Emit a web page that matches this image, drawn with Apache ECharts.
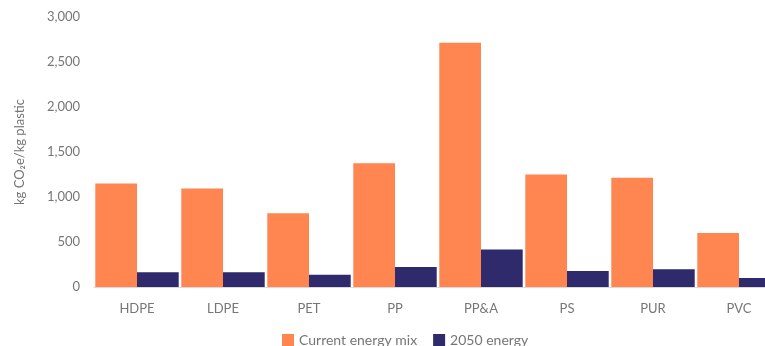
<!DOCTYPE html>
<html>
<head>
<meta charset="utf-8">
<script src="https://cdn.jsdelivr.net/npm/echarts@6/dist/echarts.min.js"></script>
<style>
  html, body { margin: 0; padding: 0; background: #fff; overflow: hidden; }
  /* original chart is wider than the window; its right edge gets cut */
  #chart { width: 782px; height: 346px; }
</style>
</head>
<body>
<div id="chart"></div>
<script>
// plastics and emissions per kg
var categories = ['HDPE', 'LDPE', 'PET', 'PP', 'PP&A', 'PS', 'PUR', 'PVC'];
var currentMix = [1150, 1095, 820, 1375, 2715, 1250, 1215, 600];
var energy2050 = [163, 163, 136, 221, 417, 177, 196, 100];
var yTicks = [0, 500, 1000, 1500, 2000, 2500, 3000];

var fontFamily = 'Lato, "Open Sans", sans-serif';
var textGray = '#767676';

var chart = echarts.init(document.getElementById('chart'));
chart.setOption({
    animation: false,
    textStyle: {fontFamily: fontFamily},
    legend: {
        bottom: -6,
        left: 277,
        itemWidth: 12,
        itemHeight: 12,
        itemGap: 16,
        itemStyle: {borderWidth: 0},
        icon: 'rect',
        textStyle: {color: textGray, fontSize: 14, fontFamily: fontFamily},
        data: ['Current energy mix', '2050 energy']
    },
    grid: {
        left: 94,
        top: 17,
        bottom: 59,
        right: 0,
        containLabel: false
    },
    xAxis: {
        type: 'category',
        data: categories,
        axisLine: {lineStyle: {color: '#d9d9d9', width: 1}},
        axisTick: {show: false},
        axisLabel: {color: textGray, fontSize: 13, margin: 15, fontFamily: fontFamily}
    },
    yAxis: {
        type: 'value',
        min: yTicks[0],
        max: yTicks[yTicks.length - 1],
        interval: 500,
        name: 'kg CO\u2082e/kg plastic',
        nameLocation: 'middle',
        nameGap: 68,
        nameTextStyle: {color: textGray, fontSize: 13, fontFamily: fontFamily},
        splitLine: {show: false},
        axisLine: {show: false},
        axisTick: {show: false},
        axisLabel: {
            color: textGray,
            fontSize: 13,
            margin: 14,
            fontFamily: fontFamily,
            formatter: function (v) {
                return v.toLocaleString('en-US');
            }
        }
    },
    series: [
        {
            name: 'Current energy mix',
            type: 'bar',
            data: currentMix,
            barGap: '0%',
            barCategoryGap: '3%',
            itemStyle: {color: '#FF8551'}
        },
        {
            name: '2050 energy',
            type: 'bar',
            data: energy2050,
            itemStyle: {color: '#2E2A6B'}
        }
    ]
});
</script>
</body>
</html>
